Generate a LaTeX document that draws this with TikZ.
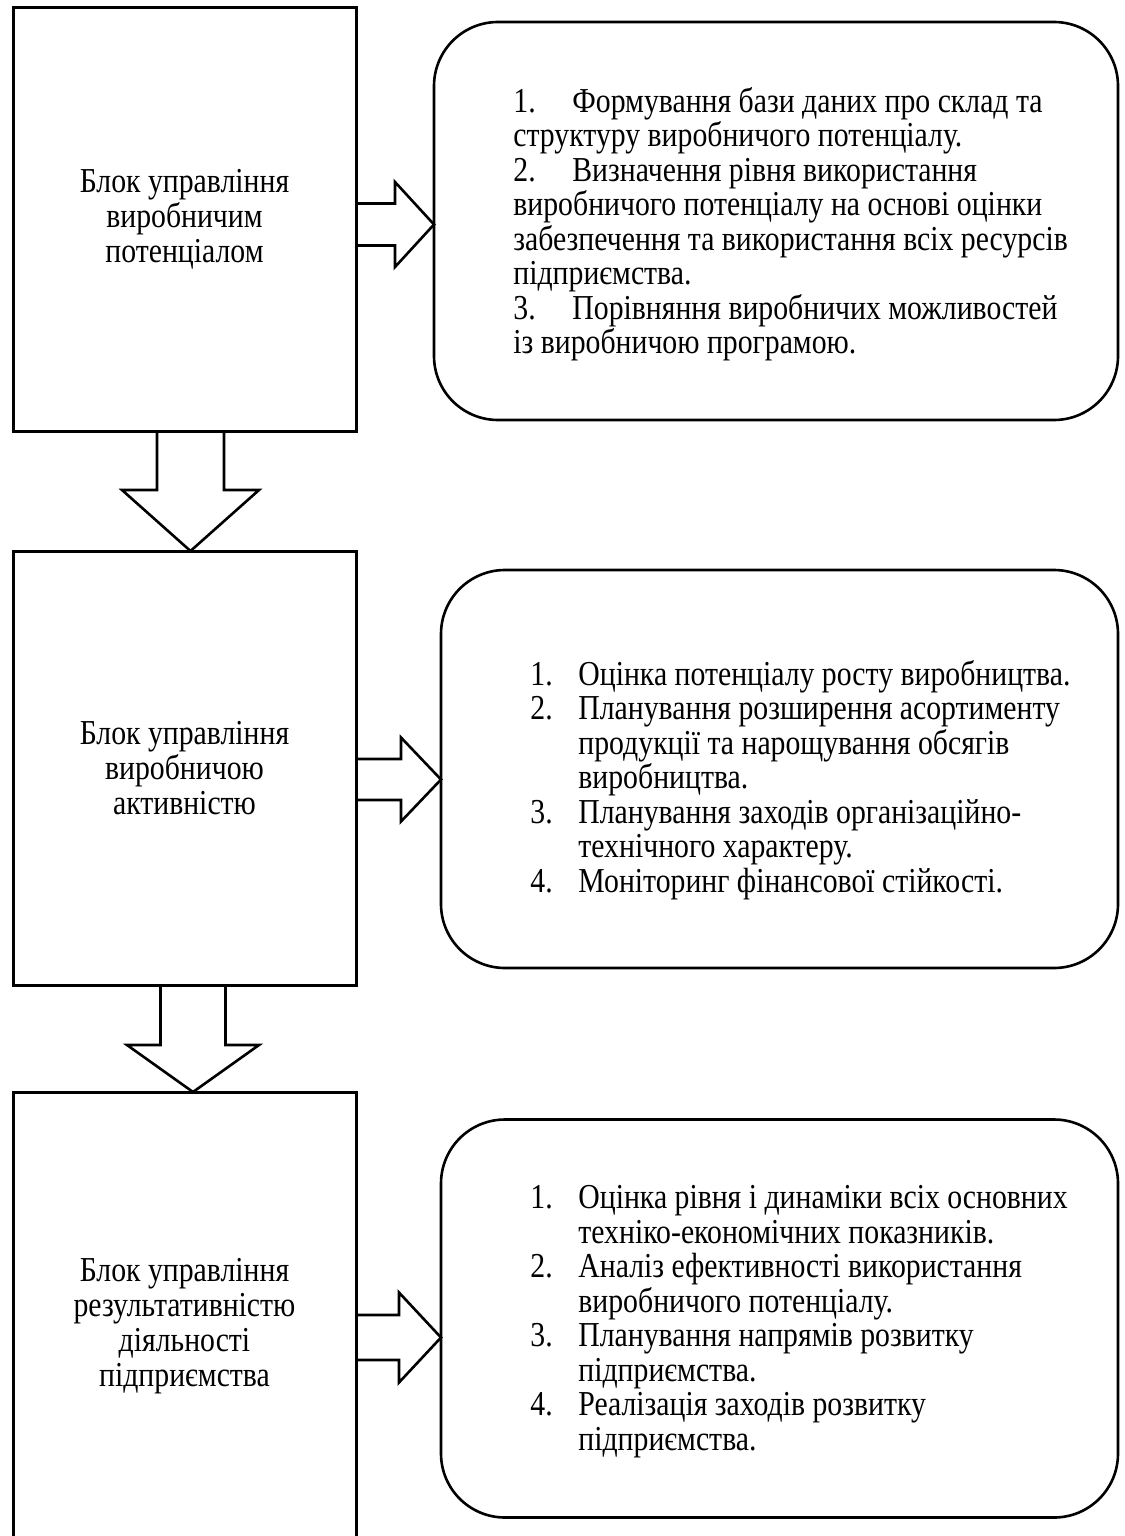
\documentclass[tikz,border=0pt]{standalone}
\usepackage{fontspec}
\setmainfont[FakeStretch=0.85]{Liberation Serif}
\usetikzlibrary{calc}
\newcommand\txtfont{\fontsize{17.5pt}{17.25pt}\selectfont}
\newcommand\blkfont{\fontsize{17.5pt}{17.6pt}\selectfont}
\tikzset{
  blk/.style={draw, line width=1.5pt, rectangle, inner sep=0pt, outer sep=0pt,
    minimum width=171.5pt, align=center, font=\blkfont},
  rbox/.style={draw, line width=1.3pt, rectangle, rounded corners=32pt, inner sep=0pt,
    outer sep=0pt, minimum width=338.5pt, minimum height=199pt},
  lst/.style={anchor=north west, inner sep=0pt, align=left, font=\txtfont},
  fat/.style={draw, line width=1.3pt, line join=miter},
}
\begin{document}
\begin{tikzpicture}[x=0.5pt, y=-0.5pt]
\useasboundingbox (0,0) rectangle (1124,1536);
% left blocks
\node[blk, minimum height=211.5pt] (b1) at (184.5,219.5) {Блок управління\\виробничим\\потенціалом};
\node[blk, minimum height=217pt] (b2) at (184.5,768) {Блок управління\\виробничою\\активністю};
\node[blk, minimum height=234pt] (b3) at (184.5,1326) {Блок управління\\результативністю\\діяльності\\підприємства};
% rounded boxes
\node[rbox, minimum width=342pt] (r1) at (776,221) {};
\node[rbox] (r2) at (779.5,769) {};
\node[rbox] (r3) at (779.5,1318.5) {};
% texts
\node[lst] (t1) at (513,87) {\makebox[29.5pt][l]{1.}Формування бази даних про склад та\\
структуру виробничого потенціалу.\\
\makebox[29.5pt][l]{2.}Визначення рівня використання\\
виробничого потенціалу на основі оцінки\\
забезпечення та використання всіх ресурсів\\
підприємства.\\
\makebox[29.5pt][l]{3.}Порівняння виробничих можливостей\\
із виробничою програмою.};
\node[lst] (t2) at (530,660) {\makebox[24pt][l]{1.}Оцінка потенціалу росту виробництва.\\
\makebox[24pt][l]{2.}Планування розширення асортименту\\
\hspace*{24pt}продукції та нарощування обсягів\\
\hspace*{24pt}виробництва.\\
\makebox[24pt][l]{3.}Планування заходів організаційно-\\
\hspace*{24pt}технічного характеру.\\
\makebox[24pt][l]{4.}Моніторинг фінансової стійкості.};
\node[lst] (t3) at (530,1185) {\makebox[24pt][l]{1.}Оцінка рівня і динаміки всіх основних\\
\hspace*{24pt}техніко-економічних показників.\\
\makebox[24pt][l]{2.}Аналіз ефективності використання\\
\hspace*{24pt}виробничого потенціалу.\\
\makebox[24pt][l]{3.}Планування напрямів розвитку\\
\hspace*{24pt}підприємства.\\
\makebox[24pt][l]{4.}Реалізація заходів розвитку\\
\hspace*{24pt}підприємства.};
% down arrows
\coordinate (d1) at ($(b1.south)+(6,0)$);
\coordinate (d1t) at (d1 |- b2.north);
\draw[fat] ($(d1)+(-33.5,0)$) -- ($(d1)+(-33.5,59)$) -- ($(d1)+(-68.5,59)$) -- (d1t)
  -- ($(d1)+(68.5,59)$) -- ($(d1)+(33.5,59)$) -- ($(d1)+(33.5,0)$);
\coordinate (d2) at ($(b2.south)+(8.5,0)$);
\coordinate (d2t) at (d2 |- b3.north);
\draw[fat] ($(d2)+(-32.5,0)$) -- ($(d2)+(-32.5,60)$) -- ($(d2)+(-66,60)$) -- (d2t)
  -- ($(d2)+(66,60)$) -- ($(d2)+(32.5,60)$) -- ($(d2)+(32.5,0)$);
% right arrows
\coordinate (e1) at ($(b1.east)+(0,5)$);
\coordinate (e1t) at (e1 -| r1.west);
\draw[fat] ($(e1)+(0,-21)$) -- ($(e1)+(39,-21)$) -- ($(e1)+(39,-42.5)$) -- (e1t)
  -- ($(e1)+(39,42.5)$) -- ($(e1)+(39,21)$) -- ($(e1)+(0,21)$);
\coordinate (e2) at ($(b2.east)+(0,11.5)$);
\coordinate (e2t) at (e2 -| r2.west);
\draw[fat] ($(e2)+(0,-20.5)$) -- ($(e2)+(45,-20.5)$) -- ($(e2)+(45,-42)$) -- (e2t)
  -- ($(e2)+(45,42)$) -- ($(e2)+(45,20.5)$) -- ($(e2)+(0,20.5)$);
\coordinate (e3) at ($(b3.east)+(0,11.5)$);
\coordinate (e3t) at (e3 -| r3.west);
\draw[fat] ($(e3)+(0,-22.5)$) -- ($(e3)+(43,-22.5)$) -- ($(e3)+(43,-45)$) -- (e3t)
  -- ($(e3)+(43,45)$) -- ($(e3)+(43,22.5)$) -- ($(e3)+(0,22.5)$);
\end{tikzpicture}
\end{document}
